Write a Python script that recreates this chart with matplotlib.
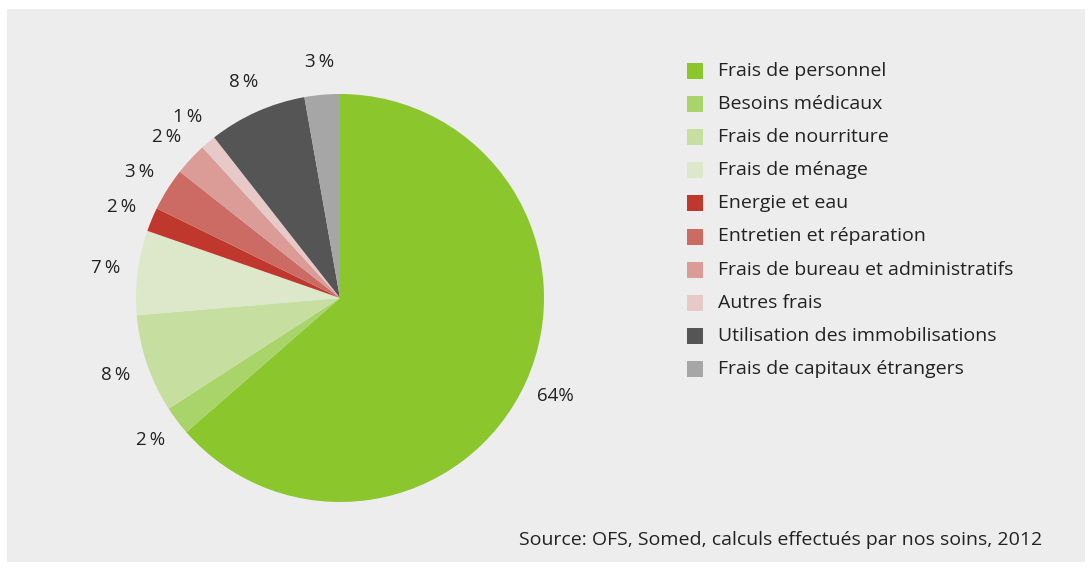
import matplotlib
matplotlib.use("Agg")
import matplotlib.pyplot as plt
from matplotlib.patches import Rectangle

plt.rcParams['font.family'] = ['Open Sans', 'DejaVu Sans']

categories = ["Frais de personnel", "Besoins médicaux", "Frais de nourriture",
              "Frais de ménage", "Energie et eau", "Entretien et réparation",
              "Frais de bureau et administratifs", "Autres frais",
              "Utilisation des immobilisations", "Frais de capitaux étrangers"]
values = [63.7, 2.3, 7.8, 6.7, 1.9, 3.4, 2.6, 1.2, 7.8, 2.8]
pct_labels = ["64%", "2\u2009%", "8\u2009%", "7\u2009%", "2\u2009%", "3\u2009%",
              "2\u2009%", "1\u2009%", "8\u2009%", "3\u2009%"]
colors = ["#8bc72c", "#a8d46a", "#c6dfa0", "#dde8cb", "#c0372d", "#cc6b63",
          "#db9b97", "#e7c9c7", "#555555", "#a6a6a6"]
source = "Source: OFS, Somed, calculs effectués par nos soins, 2012"

W, H = 1092, 569
fig = plt.figure(figsize=(W / 100, H / 100), dpi=100)
fig.patch.set_facecolor("white")
bg = Rectangle((7 / W, 1 - 562 / H), (1085 - 7) / W, (562 - 9) / H,
               transform=fig.transFigure, facecolor="#ededed", edgecolor="none", zorder=-10)
fig.patches.append(bg)

cx, cy, r = 340, 298, 204
ax = fig.add_axes([(cx - r) / W, (H - cy - r) / H, 2 * r / W, 2 * r / H])
ax.set_zorder(5)
ax.set_facecolor("none")
it = iter(pct_labels)
wedges, texts, autotexts = ax.pie(values, colors=colors, startangle=90, counterclock=False,
                                  autopct=lambda p: next(it), pctdistance=1.16,
                                  wedgeprops=dict(linewidth=0))
for t in autotexts:
    t.set_fontsize(13.5)
    t.set_color("#222222")
ax.set_xlim(-1, 1)
ax.set_ylim(-1, 1)
ax.set_aspect("equal")
ax.axis("off")

# legend
y0 = 71
dy = 33.1
for i, (lab, col) in enumerate(zip(categories, colors)):
    y = y0 + i * dy
    fig.patches.append(Rectangle((687 / W, 1 - (y + 8) / H), 16 / W, 16 / H,
                                 transform=fig.transFigure, facecolor=col, edgecolor="none"))
    fig.text(718 / W, 1 - y / H, lab, fontsize=14, color="#222222", va="center", ha="left")

fig.text(1042 / W, 1 - 540 / H, source, fontsize=14, color="#222222", va="center", ha="right")

fig.savefig("out.png", dpi=100, facecolor="white")
